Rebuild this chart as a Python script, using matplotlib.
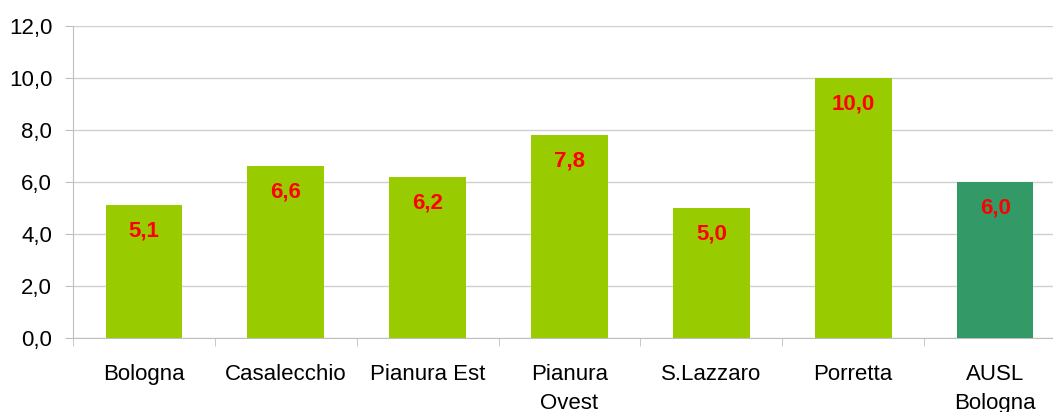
import numpy as np
import matplotlib.pyplot as plt

plt.rcParams.update({
    "font.family": ["Liberation Sans", "DejaVu Sans"],
    "font.size": 16,
})

categories = ["Bologna", "Casalecchio", "Pianura Est", "Pianura\nOvest",
              "S.Lazzaro", "Porretta", "AUSL\nBologna"]
values = [5.1, 6.6, 6.2, 7.8, 5.0, 10.0, 6.0]
value_labels = ["5,1", "6,6", "6,2", "7,8", "5,0", "10,0", "6,0"]
colors = ["#99CC00"] * 6 + ["#339966"]

W, H = 1053, 412
fig = plt.figure(figsize=(W / 100, H / 100), dpi=100)
# plot area runs off the right edge, as in the reference
ax = fig.add_axes([73 / W, (H - 338) / H, 993 / W, 312 / H])

x = np.arange(len(categories))
ax.bar(x, values, width=0.54, color=colors, zorder=3)

for xi, v, lab in zip(x, values, value_labels):
    ax.text(xi, v - 1.0, lab, ha="center", va="center", color="#FF0000",
            fontsize=16, fontweight="bold", zorder=4)

ax.set_xlim(-0.5, len(categories) - 0.5)
ax.set_ylim(0, 12)
ax.set_yticks(np.arange(0, 12.1, 2))
ax.set_yticklabels([f"{t:.1f}".replace(".", ",") for t in np.arange(0, 12.1, 2)])
ax.yaxis.grid(True, color="#D0D0D0", linewidth=1, zorder=0)

ax.set_xticks(x)
ax.set_xticklabels(categories, linespacing=1.45, va="top")
ax.tick_params(axis="x", length=0, pad=19)
ax.set_xticks(np.arange(-0.5, len(categories), 1), minor=True)
ax.tick_params(axis="x", which="minor", length=6, color="#BFBFBF")
ax.tick_params(axis="y", length=6, color="#BFBFBF", pad=9)

for s in ["top", "right"]:
    ax.spines[s].set_visible(False)
ax.spines["left"].set_color("#BFBFBF")
ax.spines["bottom"].set_color("#BFBFBF")

fig.savefig("out.png", dpi=100)
